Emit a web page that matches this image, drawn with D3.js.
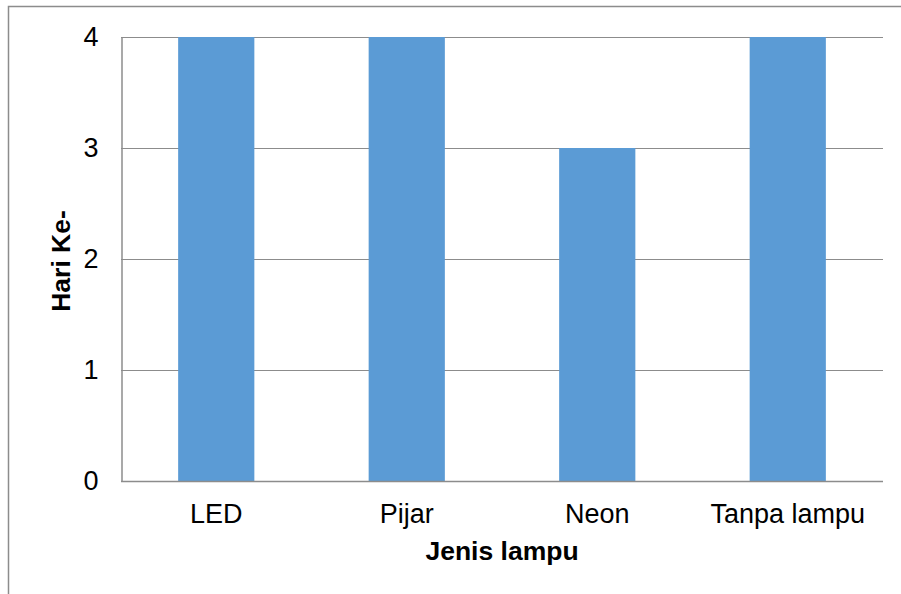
<!DOCTYPE html>
<html>
<head>
<meta charset="utf-8">
<script src="https://cdn.jsdelivr.net/npm/d3@7"></script>
<style>
  html, body { margin: 0; padding: 0; background: #fff; }
  svg { display: block; font-family: "Liberation Sans", Arial, sans-serif; }
</style>
</head>
<body>
<svg id="chart" width="901" height="594"></svg>
<script>
// Day on which each lamp type reached the observed stage
const categories = ["LED", "Pijar", "Neon", "Tanpa lampu"];
const values = [4, 4, 3, 4];
const yTicks = [0, 1, 2, 3, 4];
const xTitle = "Jenis lampu";
const yTitle = "Hari Ke-";

const svg = d3.select("#chart");
const W = 901, H = 594;
const plot = { left: 121, right: 883, top: 37, bottom: 481 };
const FONT = "Liberation Sans, Arial, sans-serif";

// Outer frame of the chart area
svg.append("rect")
  .attr("x", 8.5).attr("y", 6.5)
  .attr("width", W).attr("height", H)
  .attr("fill", "none").attr("stroke", "#8c8c8c").attr("stroke-width", 1.5);

const x = d3.scaleBand()
  .domain(categories)
  .range([plot.left, plot.right])
  .paddingInner(0.6)
  .paddingOuter(0.3);

const y = d3.scaleLinear()
  .domain([0, 4])
  .range([plot.bottom, plot.top]);

// Horizontal gridlines
svg.append("g")
  .selectAll("line")
  .data(yTicks.filter(t => t > 0))
  .join("line")
  .attr("x1", plot.left).attr("x2", plot.right)
  .attr("y1", d => Math.round(y(d)) + 0.5).attr("y2", d => Math.round(y(d)) + 0.5)
  .attr("stroke", "#8c8c8c").attr("stroke-width", 1.2);

// Bars
svg.append("g")
  .selectAll("rect")
  .data(values)
  .join("rect")
  .attr("x", (d, i) => x(categories[i]))
  .attr("y", d => y(d))
  .attr("width", x.bandwidth())
  .attr("height", d => y(0) - y(d))
  .attr("fill", "#5b9bd5");

// Y axis
const yAxis = svg.append("g")
  .attr("transform", `translate(${plot.left + 0.5},0)`)
  .call(d3.axisLeft(y).tickValues(yTicks).tickSize(0).tickPadding(23).tickFormat(d3.format("d")));
yAxis.select(".domain").attr("stroke", "#8c8c8c").attr("stroke-width", 1.5);
yAxis.selectAll("text")
  .attr("font-size", 27).attr("fill", "#000")
  .attr("font-family", FONT);

// X axis
const xAxis = svg.append("g")
  .attr("transform", `translate(0,${plot.bottom + 0.5})`)
  .call(d3.axisBottom(x).tickSize(0).tickPadding(0));
xAxis.select(".domain").attr("stroke", "#8c8c8c").attr("stroke-width", 1.5)
  .attr("d", `M${plot.left},0H${plot.right}`);
xAxis.selectAll("text")
  .attr("y", 41).attr("dy", null)
  .attr("font-size", 27).attr("fill", "#000")
  .attr("font-family", FONT);

// Axis titles
svg.append("text")
  .attr("x", (plot.left + plot.right) / 2)
  .attr("y", 560)
  .attr("text-anchor", "middle")
  .attr("font-family", FONT)
  .attr("font-size", 26.5).attr("font-weight", "bold")
  .text(xTitle);

svg.append("text")
  .attr("transform", `translate(70,${(plot.top + plot.bottom) / 2 + 2}) rotate(-90)`)
  .attr("text-anchor", "middle")
  .attr("font-family", FONT)
  .attr("font-size", 26.5).attr("font-weight", "bold")
  .text(yTitle);
</script>
</body>
</html>
